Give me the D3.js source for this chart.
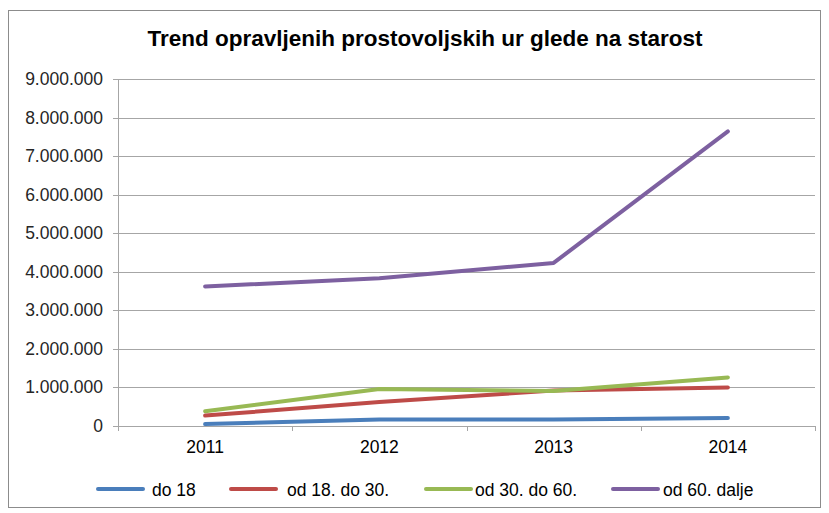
<!DOCTYPE html>
<html>
<head>
<meta charset="utf-8">
<script src="https://cdn.jsdelivr.net/npm/d3@7"></script>
<style>
  body { margin: 0; background: #fff; }
  svg { font-family: "Liberation Sans", Arial, sans-serif; }
</style>
</head>
<body>
<svg id="chart" width="829" height="513"></svg>
<script>
const years = ["2011", "2012", "2013", "2014"];
const seriesNames = ["do 18", "od 18. do 30.", "od 30. do 60.", "od 60. dalje"];
const do18 = [50000, 170000, 170000, 210000];
const od18do30 = [270000, 620000, 920000, 1000000];
const od30do60 = [380000, 960000, 910000, 1260000];
const od60 = [3620000, 3830000, 4230000, 7640000];
const colors = ["#4a7ebb", "#be4b48", "#98b954", "#7d60a0"];
const yTicks = d3.range(0, 9000001, 1000000);

const series = [do18, od18do30, od30do60, od60].map((values, i) => ({
  name: seriesNames[i],
  color: colors[i],
  values
}));

const svg = d3.select("#chart");
const margin = { left: 118, right: 815, top: 79, bottom: 426 };

// outer frame
svg.append("rect")
  .attr("x", 8.5).attr("y", 10.5)
  .attr("width", 812).attr("height", 497)
  .attr("fill", "none").attr("stroke", "#8c8c8c").attr("stroke-width", 1);

svg.append("text")
  .attr("x", 425).attr("y", 46)
  .attr("text-anchor", "middle")
  .attr("font-size", 22.5).attr("font-weight", "bold")
  .attr("fill", "#000")
  .text("Trend opravljenih prostovoljskih ur glede na starost");

const x = d3.scaleBand().domain(years).range([margin.left, margin.right]);
const y = d3.scaleLinear().domain([0, 9000000]).range([margin.bottom, margin.top]);

const fmt = (v) => d3.format(",")(v).replace(/,/g, ".");

// gridlines
svg.append("g")
  .selectAll("line")
  .data(yTicks)
  .join("line")
  .attr("x1", margin.left - 5).attr("x2", margin.right)
  .attr("y1", (d) => Math.round(y(d)) + 0.5).attr("y2", (d) => Math.round(y(d)) + 0.5)
  .attr("stroke", "#a6a6a6").attr("stroke-width", 1);

// y axis line
svg.append("line")
  .attr("x1", margin.left + 0.5).attr("x2", margin.left + 0.5)
  .attr("y1", margin.top).attr("y2", margin.bottom)
  .attr("stroke", "#a6a6a6");

svg.append("g")
  .selectAll("text")
  .data(yTicks)
  .join("text")
  .attr("x", 103).attr("y", (d) => y(d) + 6)
  .attr("text-anchor", "end")
  .attr("font-size", 17.5).attr("fill", "#262626")
  .text((d) => fmt(d));

// x axis tick marks at band boundaries
const boundaries = years.map((d) => x(d)).concat([margin.right]);
svg.append("g")
  .selectAll("line")
  .data(boundaries)
  .join("line")
  .attr("x1", (d) => Math.round(d) + 0.5).attr("x2", (d) => Math.round(d) + 0.5)
  .attr("y1", margin.bottom).attr("y2", margin.bottom + 5)
  .attr("stroke", "#a6a6a6");

svg.append("g")
  .selectAll("text")
  .data(years)
  .join("text")
  .attr("x", (d) => x(d) + x.bandwidth() / 2)
  .attr("y", 453)
  .attr("text-anchor", "middle")
  .attr("font-size", 17.5).attr("fill", "#000")
  .text((d) => d);

const line = d3.line()
  .x((d, i) => x(years[i]) + x.bandwidth() / 2)
  .y((d) => y(d));

svg.append("g")
  .selectAll("path")
  .data(series)
  .join("path")
  .attr("d", (d) => line(d.values))
  .attr("fill", "none")
  .attr("stroke", (d) => d.color)
  .attr("stroke-width", 4)
  .attr("stroke-linecap", "round")
  .attr("stroke-linejoin", "round");

// legend
const legendX = [98, 231, 426, 613];
const legendGap = [54, 56, 49, 50];
const legend = svg.append("g")
  .selectAll("g")
  .data(series)
  .join("g")
  .attr("transform", (d, i) => `translate(${legendX[i]},489)`);

legend.append("line")
  .attr("x1", 0).attr("x2", 45)
  .attr("stroke", (d) => d.color)
  .attr("stroke-width", 4)
  .attr("stroke-linecap", "round");

legend.append("text")
  .attr("x", (d, i) => legendGap[i])
  .attr("y", 7)
  .attr("font-size", 17.5).attr("fill", "#000")
  .text((d) => d.name);
</script>
</body>
</html>
